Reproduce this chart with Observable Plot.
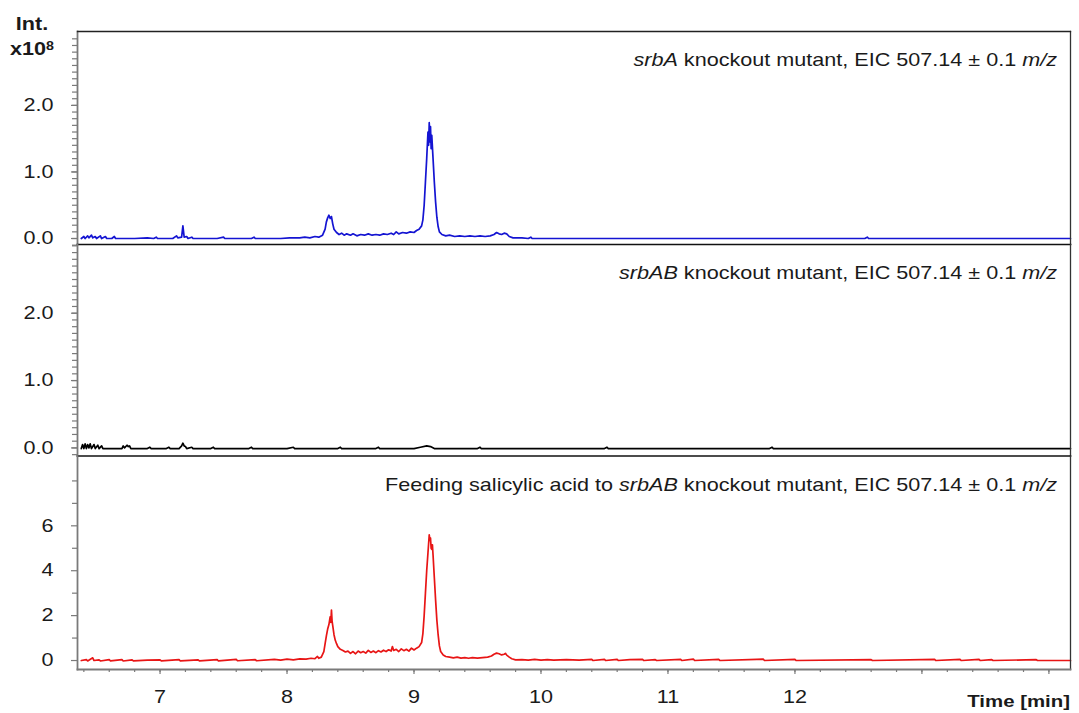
<!DOCTYPE html>
<html><head><meta charset="utf-8">
<script src="https://cdn.jsdelivr.net/npm/d3@7"></script>
<script src="https://cdn.jsdelivr.net/npm/@observablehq/plot@0.6"></script>
<style>
body{margin:0;background:#fff;}
#chart{position:relative;width:1079px;height:713px;overflow:hidden;background:#fff;}
#chart svg{position:absolute;left:0;}
</style></head><body><div id="chart"></div>
<script>
// ---- data: [time (min), intensity] ----
const srbA = [[6.38,0.00],[6.40,0.03],[6.41,0.00],[6.43,0.04],[6.44,0.01],[6.46,0.05],[6.47,0.01],[6.49,0.03],[6.50,0.00],[6.53,0.04],[6.54,0.00],[6.57,0.03],[6.58,0.00],[6.62,0.00],[6.64,0.03],[6.65,0.00],[6.80,0.00],[6.90,0.01],[6.95,0.00],[6.97,0.02],[6.98,0.00],[7.10,0.00],[7.13,0.04],[7.14,0.01],[7.17,0.02],[7.18,0.19],[7.19,0.02],[7.21,0.03],[7.22,0.00],[7.25,0.02],[7.26,0.00],[7.45,0.00],[7.50,0.02],[7.51,0.00],[7.72,0.00],[7.74,0.02],[7.75,0.00],[7.95,0.00],[8.02,0.01],[8.10,0.01],[8.14,0.02],[8.18,0.01],[8.22,0.03],[8.25,0.02],[8.28,0.05],[8.30,0.14],[8.31,0.25],[8.32,0.31],[8.33,0.35],[8.34,0.30],[8.35,0.33],[8.36,0.22],[8.37,0.14],[8.39,0.09],[8.41,0.06],[8.43,0.08],[8.45,0.05],[8.47,0.07],[8.50,0.05],[8.52,0.07],[8.55,0.04],[8.58,0.06],[8.61,0.05],[8.64,0.07],[8.67,0.05],[8.70,0.06],[8.73,0.05],[8.76,0.07],[8.79,0.06],[8.82,0.08],[8.84,0.06],[8.86,0.10],[8.88,0.07],[8.91,0.09],[8.94,0.08],[8.97,0.10],[9.00,0.09],[9.02,0.12],[9.04,0.14],[9.06,0.19],[9.07,0.28],[9.08,0.50],[9.09,0.85],[9.10,1.20],[9.11,1.60],[9.115,1.40],[9.12,1.74],[9.125,1.45],[9.13,1.68],[9.135,1.35],[9.14,1.55],[9.15,1.20],[9.16,0.85],[9.17,0.55],[9.18,0.32],[9.19,0.18],[9.20,0.10],[9.22,0.06],[9.25,0.04],[9.28,0.05],[9.32,0.03],[9.36,0.04],[9.40,0.03],[9.44,0.04],[9.48,0.03],[9.52,0.04],[9.56,0.03],[9.60,0.04],[9.63,0.06],[9.65,0.09],[9.67,0.07],[9.69,0.06],[9.71,0.08],[9.73,0.07],[9.75,0.03],[9.78,0.01],[9.85,0.01],[9.90,0.00],[9.92,0.02],[9.93,0.00],[10.05,0.00],[12.55,0.00],[12.57,0.02],[12.58,0.00],[14.17,0.00]];

const srbAB = [[6.38,-0.01],[6.39,0.05],[6.40,-0.01],[6.41,0.06],[6.42,-0.01],[6.43,0.05],[6.44,0.00],[6.45,0.06],[6.46,-0.01],[6.48,0.05],[6.49,-0.01],[6.51,0.04],[6.52,-0.01],[6.54,0.03],[6.55,-0.01],[6.70,-0.01],[6.71,0.03],[6.72,0.00],[6.74,0.04],[6.75,0.02],[6.76,0.03],[6.77,-0.01],[6.90,-0.01],[6.92,0.01],[6.93,-0.01],[7.05,-0.01],[7.07,0.01],[7.08,-0.01],[7.15,-0.01],[7.17,0.03],[7.18,0.07],[7.19,0.03],[7.20,0.02],[7.21,-0.01],[7.25,0.01],[7.26,-0.01],[7.40,-0.01],[7.42,0.01],[7.43,-0.01],[7.70,-0.01],[7.72,0.01],[7.73,-0.01],[8.00,-0.01],[8.05,0.01],[8.06,-0.01],[8.40,-0.01],[8.42,0.01],[8.43,-0.01],[8.70,-0.01],[8.72,0.01],[8.73,-0.01],[9.00,-0.01],[9.05,0.01],[9.10,0.03],[9.13,0.02],[9.16,-0.01],[9.50,-0.01],[9.52,0.01],[9.53,-0.01],[10.50,-0.01],[10.52,0.01],[10.53,-0.01],[11.80,-0.01],[11.82,0.01],[11.83,-0.01],[14.17,-0.01]];

const feeding = [[6.38,0.00],[6.42,0.04],[6.43,-0.02],[6.47,0.12],[6.48,0.00],[6.52,0.03],[6.53,-0.02],[6.60,0.04],[6.61,-0.02],[6.70,0.04],[6.71,-0.02],[6.78,0.03],[6.79,-0.02],[6.90,0.02],[7.00,0.03],[7.01,-0.02],[7.15,0.04],[7.16,-0.02],[7.30,0.03],[7.31,-0.02],[7.45,0.04],[7.46,-0.02],[7.60,0.05],[7.61,-0.01],[7.75,0.04],[7.76,-0.01],[7.90,0.05],[7.95,0.02],[8.00,0.06],[8.05,0.03],[8.10,0.07],[8.15,0.06],[8.19,0.10],[8.22,0.08],[8.24,0.18],[8.25,0.10],[8.27,0.15],[8.29,0.40],[8.30,0.75],[8.31,1.10],[8.32,1.40],[8.33,1.60],[8.34,1.95],[8.345,1.70],[8.35,2.25],[8.355,1.75],[8.36,1.55],[8.37,1.15],[8.38,0.90],[8.39,0.75],[8.40,0.62],[8.42,0.50],[8.44,0.45],[8.46,0.38],[8.48,0.42],[8.50,0.32],[8.52,0.40],[8.54,0.30],[8.56,0.42],[8.58,0.35],[8.60,0.40],[8.62,0.33],[8.64,0.45],[8.66,0.36],[8.68,0.42],[8.70,0.35],[8.72,0.44],[8.74,0.38],[8.76,0.46],[8.78,0.40],[8.80,0.48],[8.82,0.42],[8.83,0.62],[8.84,0.45],[8.86,0.50],[8.88,0.40],[8.90,0.52],[8.92,0.44],[8.94,0.50],[8.96,0.42],[8.98,0.55],[9.00,0.47],[9.02,0.55],[9.04,0.62],[9.06,0.80],[9.07,1.20],[9.08,2.00],[9.09,3.00],[9.10,4.00],[9.11,4.80],[9.115,5.20],[9.12,5.60],[9.125,5.35],[9.13,5.45],[9.135,5.00],[9.14,4.95],[9.145,5.15],[9.15,4.70],[9.16,3.70],[9.17,2.70],[9.18,1.80],[9.19,1.15],[9.20,0.65],[9.21,0.40],[9.23,0.25],[9.25,0.18],[9.28,0.15],[9.31,0.12],[9.34,0.15],[9.37,0.11],[9.40,0.13],[9.43,0.10],[9.46,0.13],[9.50,0.11],[9.54,0.13],[9.58,0.15],[9.61,0.20],[9.63,0.28],[9.65,0.33],[9.67,0.30],[9.69,0.25],[9.71,0.28],[9.72,0.32],[9.73,0.24],[9.75,0.15],[9.77,0.08],[9.80,0.03],[9.85,0.04],[9.90,0.02],[9.95,0.05],[10.00,0.02],[10.05,0.04],[10.10,0.02],[10.20,0.04],[10.30,0.02],[10.40,0.05],[10.41,0.00],[10.50,0.05],[10.51,0.00],[10.60,0.05],[10.61,0.00],[10.70,0.04],[10.80,0.05],[10.81,0.00],[10.90,0.04],[10.91,0.00],[11.10,0.05],[11.11,0.00],[11.20,0.06],[11.21,0.00],[11.40,0.05],[11.41,0.00],[11.70,0.05],[11.75,0.06],[11.76,0.00],[12.00,0.05],[12.01,0.00],[12.60,0.04],[12.61,0.00],[13.10,0.05],[13.11,0.00],[13.30,0.05],[13.31,0.00],[13.45,0.05],[13.46,0.00],[13.55,0.04],[13.56,0.00],[13.90,0.04],[13.91,0.00],[14.17,0.00]];

// ---- axes / labels ----
const xDomain = [6.35, 14.17];
const xMajor = [7, 8, 9, 10, 11, 12, 13, 14];
const xLabels = [7, 8, 9, 10, 11, 12];
const xMinor = d3.range(6.4, 14.1, 0.2);
const yMajorE8 = [0, 1, 2];
const yMinorE8 = d3.range(-0.1, 3.05, 0.1);
const yMajorFeed = [0, 2, 4, 6];
const yMinorFeed = [1, 3, 5, 7, 8];
const titles = [
  [{t:"srbA", i:true}, {t:" knockout mutant, EIC 507.14 ± 0.1 "}, {t:"m/z", i:true}],
  [{t:"srbAB", i:true}, {t:" knockout mutant, EIC 507.14 ± 0.1 "}, {t:"m/z", i:true}],
  [{t:"Feeding salicylic acid to "}, {t:"srbAB", i:true}, {t:" knockout mutant, EIC 507.14 ± 0.1 "}, {t:"m/z", i:true}]
];
const yUnit = [{t:"x10"}, {t:"8", sup:true}];
const xTitle = "Time [min]";

const SX = 1.2;           // horizontal stretch of the original's lettering
const FS = 18;
const FONT = "'Liberation Sans', Arial, sans-serif";
const INK = "#1a1a1a", AXIS = "#7a7a7a";

function rich(parts, pos) {
  return (index, scales, values, dims) => {
    const p = pos(dims);
    const t = d3.create("svg:text")
      .attr("class", "rich")
      .attr("transform", `translate(${p.x},${p.y}) scale(${SX},1)`)
      .attr("text-anchor", p.anchor)
      .attr("font-size", p.size)
      .attr("font-weight", p.weight || "normal")
      .attr("font-family", FONT)
      .attr("fill", INK)
      .style("white-space", "pre");
    for (const q of parts) {
      const s = t.append("tspan").text(q.t);
      if (q.i) s.attr("font-style", "italic");
      if (q.sup) s.attr("dy", "-0.45em").attr("font-size", p.size * 0.66);
    }
    return t.node();
  };
}

function panel({data, color, yDomain, major, minor, fmt, title, top, height, mt, mb, first, last}) {
  const marks = [
    Plot.axisY(minor, {tickSize: 5, tickFormat: () => "", stroke: AXIS, strokeWidth: 1.2, label: null}),
    Plot.axisY(major, {tickSize: 6, tickPadding: 18, tickFormat: fmt, stroke: AXIS, strokeWidth: 1.2, fill: INK, label: null}),
    Plot.line(data, {x: d => d[0], y: d => d[1], stroke: color, strokeWidth: 1.7}),
    Plot.frame({anchor: "right", stroke: "#333", strokeWidth: 1.3}),
    Plot.frame({anchor: "left", stroke: AXIS, strokeWidth: 1.8}),
    rich(title, d => ({x: d.width - d.marginRight - 13, y: d.marginTop + 35, anchor: "end", size: FS}))
  ];
  if (first) {
    marks.push(Plot.frame({anchor: "top", stroke: "#222", strokeWidth: 1.3}));
    marks.push(rich([{t:"Int."}], d => ({x: d.marginLeft - 45, y: d.marginTop - 1, anchor: "middle", size: 18, weight: "bold"})));
    marks.push(rich(yUnit, d => ({x: d.marginLeft - 45, y: d.marginTop + 24, anchor: "middle", size: 18, weight: "bold"})));
  }
  if (!last) {
    marks.push(Plot.frame({anchor: "bottom", stroke: "#111", strokeWidth: 1.6}));
  } else {
    marks.push(Plot.frame({anchor: "bottom", stroke: AXIS, strokeWidth: 1.8}));
    marks.push(Plot.axisX(xMinor, {tickSize: 3, tickFormat: () => "", stroke: AXIS, strokeWidth: 1.2, label: null}));
    marks.push(Plot.axisX(xMajor, {tickSize: 5, tickPadding: 16, tickFormat: d => xLabels.includes(d) ? String(d) : "", stroke: AXIS, strokeWidth: 1.2, fill: INK, label: null}));
    marks.push(rich([{t: xTitle}], d => ({x: d.width - d.marginRight, y: d.height - d.marginBottom + 38, anchor: "end", size: 17, weight: "bold"})));
  }
  const svg = Plot.plot({
    width: 1079, height, marginLeft: 77, marginRight: 9, marginTop: mt, marginBottom: mb,
    x: {domain: xDomain, axis: null},
    y: {domain: yDomain, axis: null},
    style: {fontFamily: FONT, fontSize: FS + "px", background: "transparent", color: INK, overflow: "visible"},
    marks
  });
  svg.style.top = top + "px";
  svg.style.position = "absolute";
  // stretch plain axis labels like the original lettering
  svg.querySelectorAll("text:not(.rich)").forEach(el => {
    const tr = el.getAttribute("transform") || "";
    const x = +(el.getAttribute("x") || 0);
    el.setAttribute("transform", `${tr} translate(${x},0) scale(${SX},1) translate(${-x},0)`);
  });
  document.getElementById("chart").appendChild(svg);
}

const f1 = d3.format(".1f");
panel({data: srbA, color: "#1414d2", yDomain: [-0.09, 3.11], major: yMajorE8, minor: yMinorE8, fmt: f1, title: titles[0], top: 0, height: 250, mt: 31, mb: 6, first: true});
panel({data: srbAB, color: "#000000", yDomain: [-0.12, 3.02], major: yMajorE8, minor: yMinorE8, fmt: f1, title: titles[1], top: 238, height: 224, mt: 6, mb: 6.5});
panel({data: feeding, color: "#e81515", yDomain: [-0.40, 9.11], major: yMajorFeed, minor: yMinorFeed, fmt: d => String(d), title: titles[2], top: 449, height: 264, mt: 6.5, mb: 44, last: true});
</script>
</body></html>
